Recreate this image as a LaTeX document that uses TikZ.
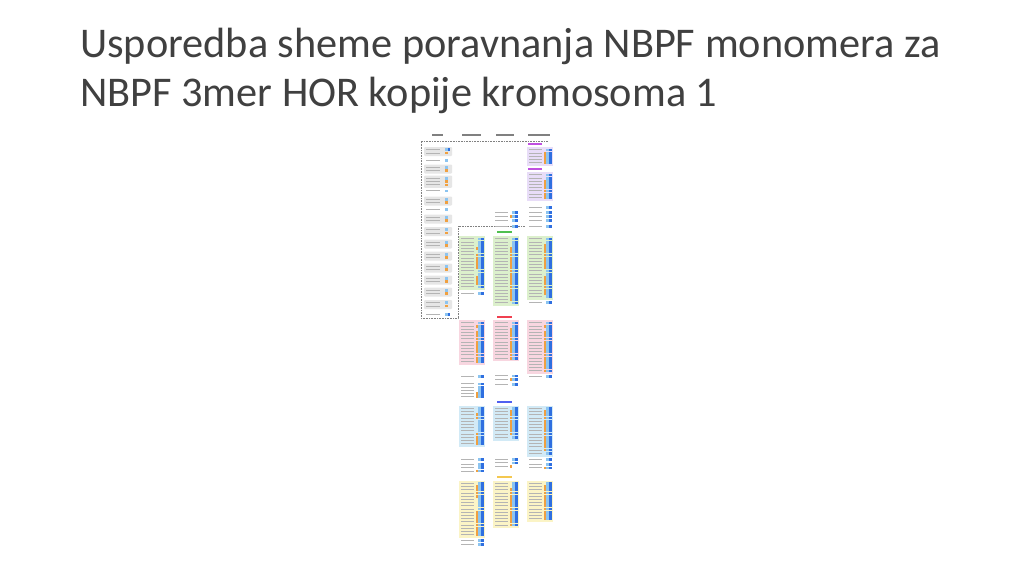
\documentclass[tikz,border=0pt]{standalone}
\usepackage{fontspec}
\setmainfont{Carlito}
\definecolor{txt}{HTML}{B4B4B4}
\definecolor{hdr}{HTML}{808080}
\definecolor{lb}{HTML}{8CC4F0}
\definecolor{db}{HTML}{2F6FE0}
\definecolor{org}{HTML}{F0A040}
\definecolor{bgM}{HTML}{E8DDF8}
\definecolor{bgG}{HTML}{DCF0CC}
\definecolor{bgR}{HTML}{F8D6E0}
\definecolor{bgB}{HTML}{D2EAF6}
\definecolor{bgY}{HTML}{FBF4C6}
\definecolor{bgC}{HTML}{E6E6E6}
\definecolor{labM}{HTML}{C050E0}
\definecolor{labG}{HTML}{50C050}
\definecolor{labR}{HTML}{F04050}
\definecolor{labB}{HTML}{5060F0}
\definecolor{labY}{HTML}{F4C850}
\newcommand\drow[3]{%
  \fill[txt] (#1+1,#2+0.9) rectangle (#1+14,#2+1.9);
  \ifcase#3\relax
    \fill[lb] (#1+18.3,#2) rectangle (#1+20.8,#2+2.8);
    \fill[db] (#1+21,#2) rectangle (#1+23.5,#2+2.8);
  \or
    \fill[org] (#1+15.6,#2) rectangle (#1+18.1,#2+2.8);
    \fill[lb] (#1+18.3,#2) rectangle (#1+20.8,#2+2.8);
    \fill[db] (#1+21,#2) rectangle (#1+23.5,#2+2.8);
  \or
    \fill[org] (#1+15.6,#2) rectangle (#1+18.1,#2+2.8);
  \fi}
\newcommand\dblock[5]{% x, ytop, nrows, bg, codes
  \fill[#4] (#1-1,#2) rectangle (#1+25,#2+#3*3.2+3);
  \foreach \c [count=\i from 0] in {#5} {\drow{#1}{#2+1.5+\i*3.2}{\c}}}
\newcommand\crow[3]{% x, y, code
  \fill[txt] (#1+2,#2+0.9) rectangle (#1+16,#2+1.9);
  \ifcase#3\relax
    \fill[lb] (#1+21,#2) rectangle (#1+23.5,#2+2.8);
  \or
    \fill[org] (#1+21,#2) rectangle (#1+23.5,#2+2.8);
  \or
    \fill[lb] (#1+21,#2) rectangle (#1+23.5,#2+2.8);
    \fill[db] (#1+23.7,#2) rectangle (#1+26.2,#2+2.8);
  \fi}
\newcommand\cbox[3]{% ytop, codes, nrows
  \fill[bgC,rounded corners=1pt] (424,#1) rectangle (452,#1+#3*3.4+2.2);
  \foreach \c [count=\i from 0] in {#2} {\crow{424}{#1+1.2+\i*3.4}{\c}}}
\begin{document}
\begin{tikzpicture}[x=1pt,y=-1pt]
\useasboundingbox (0,0) rectangle (1024,576);
\fill[white] (0,0) rectangle (1024,576);
% title
\node[anchor=base west,inner sep=0pt,text=black!75,font=\fontsize{42.3}{49}\selectfont] (t1) at (80,57) {Usporedba sheme poravnanja NBPF monomera za};
\node[anchor=base west,inner sep=0pt,text=black!75,font=\fontsize{42.3}{49}\selectfont] (t2) at (80,106) {NBPF 3mer HOR kopije kromosoma 1};
% column headers
\fill[hdr] (432,134.3) rectangle (443,135.8);
\fill[hdr] (462,134.3) rectangle (481,135.8);
\fill[hdr] (496,134.3) rectangle (514,135.8);
\fill[hdr] (528,134.3) rectangle (550,135.8);
% dashed outline
\draw[gray,line width=0.4pt,dash pattern=on 0.8pt off 0.8pt] (548,141) -- (421,141) -- (421,318) -- (458,318) -- (458,226) -- (525,226);
% chimp column
\cbox{147}{2,1}{2}
\crow{424}{159}{0}
\cbox{164.5}{0,1}{2}
\cbox{175.5}{0,1,1}{3}
\crow{424}{189.5}{0}
\cbox{196.5}{0,1}{2}
\crow{424}{208}{0}
\cbox{214.5}{0,1}{2}
\cbox{227}{0,1}{2}
\cbox{239.5}{0,1}{2}
\cbox{251.5}{0,1}{2}
\cbox{263.5}{0,1}{2}
\cbox{275.5}{0,1}{2}
\cbox{287.5}{0,1}{2}
\cbox{300}{0,1}{2}
\crow{424}{313}{2}
% magenta group (CHM13 only)
\fill[labM] (528,142.6) rectangle (542,145.4);
\dblock{528}{147}{5}{bgM}{0,1,1,1,1}
\fill[labM] (528,167.6) rectangle (542,170.4);
\dblock{528}{172}{8}{bgM}{0,0,1,1,1,1,1,1}
\drow{528}{206}{0}
\drow{528}{211}{0}
\drow{528}{215}{0}
\drow{528}{219}{0}
\drow{528}{225}{0}
\drow{494}{211}{0}
\drow{494}{215}{1}
\drow{494}{219}{0}
\drow{494}{225}{0}
% green group
\fill[labG] (497,230.6) rectangle (512,233.4);
\dblock{460}{236}{16}{bgG}{0,0,0,1,0,1,1,1,1,1,0,0,1,1,1,0}
\dblock{494}{236}{21}{bgG}{0,0,0,1,1,1,1,1,1,1,1,1,1,1,1,1,1,1,1,1,0}
\dblock{528}{236}{19}{bgG}{0,0,1,1,1,1,1,1,1,1,0,0,1,1,1,1,1,1,0}
\drow{460}{292}{0}
\drow{528}{301}{0}
% red group
\fill[labR] (497,315.6) rectangle (512,318.4);
\dblock{460}{320}{13}{bgR}{0,1,0,1,1,1,1,1,1,1,1,1,1}
\dblock{494}{320}{12}{bgR}{0,0,1,1,1,1,1,1,1,1,1,1}
\dblock{528}{320}{16}{bgR}{0,1,0,1,1,1,1,1,1,1,1,1,1,1,1,1}
\drow{460}{375}{0}
\drow{494}{374.5}{0}
\drow{494}{378}{1}
\drow{494}{383}{0}
\drow{528}{375}{0}
\foreach \c [count=\i from 0] in {0,0,0,1,1} {\drow{460}{382.5+\i*3.2}{\c}}
% blue group
\fill[labB] (497,400.6) rectangle (512,403.4);
\dblock{460}{405.5}{12}{bgB}{0,0,1,1,0,0,0,0,1,1,1,1}
\dblock{494}{405.5}{10}{bgB}{0,1,1,1,1,1,1,1,1,0}
\dblock{528}{405.5}{15}{bgB}{0,1,1,1,1,1,1,1,1,1,1,1,1,1,0}
\drow{460}{458}{0}
\drow{460}{463}{0}
\drow{460}{466.3}{0}
\drow{460}{469.6}{1}
\drow{494}{458}{0}
\drow{494}{461.5}{0}
\drow{494}{465}{2}
\drow{528}{458}{0}
\drow{528}{463}{0}
\drow{528}{466.5}{1}
% yellow group
\fill[labY] (497,475.6) rectangle (512,478.4);
\dblock{460}{480.5}{17}{bgY}{0,1,1,1,1,0,0,0,0,1,1,1,1,1,1,1,1}
\dblock{494}{480.5}{14}{bgY}{0,0,1,1,1,1,1,1,1,1,1,1,1,1}
\dblock{528}{480.5}{12}{bgY}{0,1,1,1,1,1,1,1,1,1,1,1}
\drow{460}{539}{0}
\drow{460}{543}{0}
\end{tikzpicture}
\end{document}
